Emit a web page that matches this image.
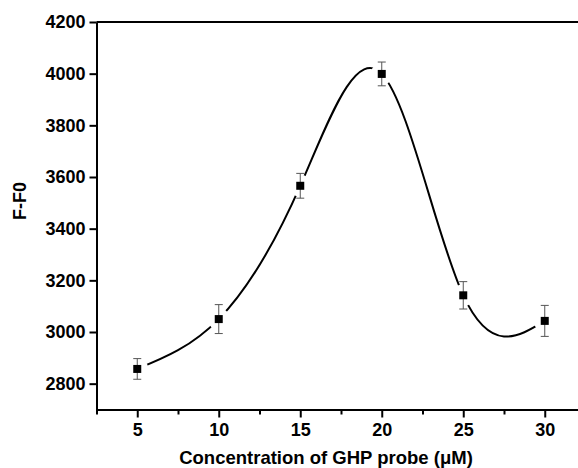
<!DOCTYPE html>
<html>
<head>
<meta charset="utf-8">
<script src="https://cdn.jsdelivr.net/npm/d3@7"></script>
<style>
  body { margin: 0; background: #fff; }
  text { font-family: 'Liberation Sans', Arial, sans-serif; font-weight: bold; fill: #000; }
</style>
</head>
<body>
<div id="chart"></div>
<script>
// data
const concentrations = [5, 10, 15, 20, 25, 30]
const fValues = [2857, 3050, 3566, 3999, 3142, 3043]
const errors = [40, 56, 48, 46, 53, 60]
const yTicks = [2800, 3000, 3200, 3400, 3600, 3800, 4000, 4200]
const xTicks = [5, 10, 15, 20, 25, 30]
const xMinorTicks = [2.5, 7.5, 12.5, 17.5, 22.5, 27.5, 32.5]

const width = 578
const height = 468

const svg = d3
  .select('#chart')
  .append('svg')
  .attr('width', width)
  .attr('height', height)

const xPositionScale = d3
  .scaleLinear()
  .domain([2.5, 32.5])
  .range([96.5, 585.5])
const yPositionScale = d3
  .scaleLinear()
  .domain([2700, 4200])
  .range([409.5, 22])

const datapoints = concentrations.map((c, i) => ({ x: c, y: fValues[i], err: errors[i] }))

// fitted curve (natural spline through the points)
const line = d3
  .line()
  .x(d => xPositionScale(d.x))
  .y(d => yPositionScale(d.y))
  .curve(d3.curveNatural)

svg
  .append('path')
  .datum(datapoints)
  .attr('d', line)
  .attr('fill', 'none')
  .attr('stroke', '#000')
  .attr('stroke-width', 2)

// white gaps round the markers
svg
  .selectAll('.halo')
  .data(datapoints)
  .enter()
  .append('circle')
  .attr('class', 'halo')
  .attr('cx', d => xPositionScale(d.x))
  .attr('cy', d => yPositionScale(d.y))
  .attr('r', 11)
  .attr('fill', '#fff')

// error bars
const bars = svg
  .selectAll('.err')
  .data(datapoints)
  .enter()
  .append('g')
  .attr('class', 'err')
  .attr('stroke', '#555')
  .attr('stroke-width', 1)
bars
  .append('line')
  .attr('x1', d => xPositionScale(d.x))
  .attr('x2', d => xPositionScale(d.x))
  .attr('y1', d => yPositionScale(d.y - d.err))
  .attr('y2', d => yPositionScale(d.y + d.err))
bars
  .append('line')
  .attr('x1', d => xPositionScale(d.x) - 4)
  .attr('x2', d => xPositionScale(d.x) + 4)
  .attr('y1', d => yPositionScale(d.y + d.err))
  .attr('y2', d => yPositionScale(d.y + d.err))
bars
  .append('line')
  .attr('x1', d => xPositionScale(d.x) - 4)
  .attr('x2', d => xPositionScale(d.x) + 4)
  .attr('y1', d => yPositionScale(d.y - d.err))
  .attr('y2', d => yPositionScale(d.y - d.err))

// square markers
svg
  .selectAll('.marker')
  .data(datapoints)
  .enter()
  .append('rect')
  .attr('class', 'marker')
  .attr('x', d => xPositionScale(d.x) - 4)
  .attr('y', d => yPositionScale(d.y) - 4)
  .attr('width', 8)
  .attr('height', 8)
  .attr('fill', '#000')

// axes
const yAxis = d3
  .axisLeft(yPositionScale)
  .tickValues(yTicks)
  .tickFormat(d3.format('d'))
  .tickSize(7)
  .tickPadding(4)
  .tickSizeOuter(0)
svg
  .append('g')
  .attr('class', 'axis y-axis')
  .attr('transform', 'translate(' + xPositionScale(2.5) + ',0)')
  .call(yAxis)

const xAxisMinor = d3
  .axisBottom(xPositionScale)
  .tickValues(xMinorTicks)
  .tickSize(5)
  .tickFormat('')
  .tickSizeOuter(0)
svg
  .append('g')
  .attr('class', 'axis x-minor')
  .attr('transform', 'translate(0,' + yPositionScale(2700) + ')')
  .call(xAxisMinor)

const xAxis = d3
  .axisBottom(xPositionScale)
  .tickValues(xTicks)
  .tickFormat(d3.format('d'))
  .tickSize(8)
  .tickPadding(6)
  .tickSizeOuter(0)
svg
  .append('g')
  .attr('class', 'axis x-axis')
  .attr('transform', 'translate(0,' + yPositionScale(2700) + ')')
  .call(xAxis)

svg.selectAll('.axis .domain').attr('stroke-width', 2).attr('stroke', '#000')
svg.selectAll('.axis .tick line').attr('stroke-width', 2).attr('stroke', '#000')
svg.selectAll('.axis text').style('font-size', '18px')

// top frame line
svg
  .append('line')
  .attr('x1', xPositionScale(2.5))
  .attr('x2', xPositionScale(32.5))
  .attr('y1', yPositionScale(4200))
  .attr('y2', yPositionScale(4200))
  .attr('stroke', '#000')
  .attr('stroke-width', 2)

// axis titles
svg
  .append('text')
  .attr('x', 326)
  .attr('y', 464)
  .attr('text-anchor', 'middle')
  .style('font-size', '18.5px')
  .text('Concentration of GHP probe (μM)')

svg
  .append('text')
  .attr('transform', 'translate(26,201) rotate(-90)')
  .attr('text-anchor', 'middle')
  .style('font-size', '18px')
  .text('F-F0')
</script>
</body>
</html>
